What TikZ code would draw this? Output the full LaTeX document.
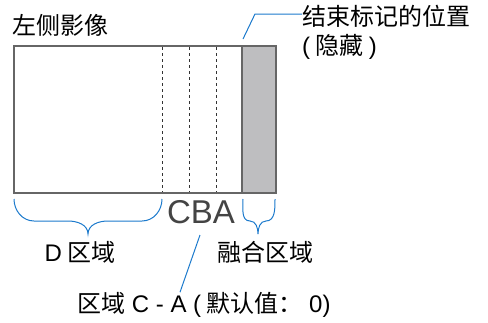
\documentclass[tikz,border=0pt]{standalone}
\usepackage{fontspec}
\setmainfont{Noto Sans CJK SC}
\newfontfamily\latin{Liberation Sans}
\usetikzlibrary{positioning}
\definecolor{leaderblue}{HTML}{1C7ACC}
\definecolor{framegray}{HTML}{666666}
\definecolor{hiddengray}{HTML}{BEBEC0}
\definecolor{lettergray}{HTML}{444444}
\tikzset{
  frame/.style={draw=framegray,line width=2pt},
  zoneline/.style={draw=black!80,line width=.9pt,dash pattern=on 3pt off 3pt},
  leader/.style={draw=leaderblue,line width=1pt},
  bracepath/.style={draw=leaderblue,line width=1pt},
  label/.style={inner sep=0pt,font=\fontsize{24}{29}\selectfont}
}
\begin{document}
\begin{tikzpicture}[x=1pt,y=-1pt]
  \useasboundingbox (0,0) rectangle (488,322);
  % left image with its zones
  \draw[frame] (14,46) rectangle (242,193);
  \fill[hiddengray] (242,46) rectangle (276,193);
  \draw[frame] (242,46) rectangle (276,193);
  \draw[zoneline] (162,47) -- (162,192);
  \draw[zoneline] (189,47) -- (189,192);
  \draw[zoneline] (216,47) -- (216,192);
  % labels
  \node[label,anchor=west] (title) at (12,25) {左侧影像};
  \node[label,anchor=west,align=left] (endlabel) at (302,32)
    {结束标记的位置\\{\latin(} 隐藏 {\latin)}};
  \node[inner sep=0pt,text=lettergray,font=\latin\fontsize{33}{33}\selectfont] (cba) at (201,212) {CBA};
  \node[label] (dlabel) at (80,252) {{\latin D} 区域};
  \node[label] (blendlabel) at (265,252) {融合区域};
  \node[label,anchor=west] (calabel) at (77,305) {区域{\latin\ C - A (} 默认值：{\latin\ 0)}};
  % leaders
  \coordinate (endmark) at (243,39);
  \coordinate (cbafoot) at (200,235);
  \draw[leader] (endmark) -- (255,14) -- (endlabel.west |- 0,14);
  \draw[leader] (cbafoot) -- (calabel.north -| 180,0);
  % braces
  \draw[bracepath] (14,199) to[out=-90,in=180] (34,221) -- (68,221)
    to[out=0,in=90] (88,234) to[out=90,in=180] (108,221) -- (142,221)
    to[out=0,in=-90] (162,199);
  \draw[bracepath] (243,199) to[out=-90,in=180] (250,221)
    to[out=0,in=90] (258,234) to[out=90,in=180] (266,221)
    to[out=0,in=-90] (275,199);
\end{tikzpicture}
\end{document}
